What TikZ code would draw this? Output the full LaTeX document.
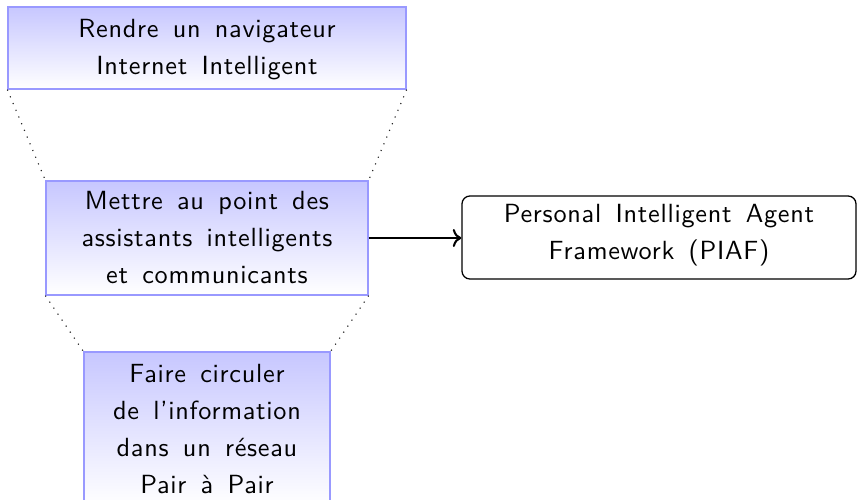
\documentclass[tikz,border=0pt]{standalone}
\usepackage{fontspec}
\newfontfamily\boxfont{lmsans10-regular}[Extension=.otf, Ligatures=TeX, LetterSpace=2.8, WordSpace=1.5]
\usetikzlibrary{arrows.meta}
\begin{document}
\begin{tikzpicture}[x=0.39216pt,y=-0.39216pt,
  every node/.style={font=\boxfont\fontsize{10.3}{14.5}\selectfont, align=center, inner sep=0pt},
  goal/.style={draw=blue!40, top color=blue!22, bottom color=white, line width=0.5pt},
  frame/.style={draw=black, rounded corners=3.1pt, line width=0.5pt},
  link/.style={black!85, line width=0.45pt, dash pattern=on 0.45pt off 2.4pt},
  flow/.style={-To, line width=0.8pt}]
\useasboundingbox (0,0) rectangle (857,499);
\node[goal, minimum width=156.08pt, minimum height=32.16pt] (b1) at (207,48) {\rule{0pt}{8.7pt}Rendre un navigateur\\Internet Intelligent};
\node[goal, minimum width=126.27pt, minimum height=44.71pt] (b2) at (207,238) {Mettre au point des\\assistants intelligents\\et communicants};
\node[goal, minimum width=96.47pt, minimum height=60.39pt] (b3) at (207,429) {Faire circuler\\de l’information\\dans un réseau\\Pair à Pair};
\node[frame, minimum width=154.51pt, minimum height=32.55pt] (piaf) at (659,237.5) {Personal Intelligent Agent\\Framework (PIAF)\rule[-4.15pt]{0pt}{4.15pt}};
\draw[link] (b1.south west) -- (b2.north west);
\draw[link] (b1.south east) -- (b2.north east);
\draw[link] (b2.south west) -- (b3.north west);
\draw[link] (b2.south east) -- (b3.north east);
\draw[flow] (b2.east) -- (b2.east -| piaf.west);
\end{tikzpicture}
\end{document}
